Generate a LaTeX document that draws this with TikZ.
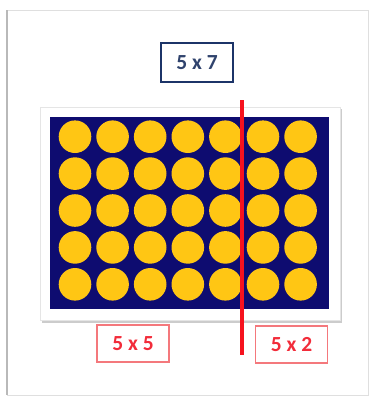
\documentclass[tikz,border=0pt]{standalone}
\usepackage{fontspec}
\setmainfont{Carlito}
\usetikzlibrary{positioning}
\definecolor{navy}{RGB}{14,12,112}
\definecolor{dotyellow}{RGB}{255,198,20}
\definecolor{boxblue}{RGB}{28,52,104}
\definecolor{cutred}{RGB}{246,18,30}
\definecolor{lblred}{RGB}{242,44,58}
\definecolor{lbledge}{RGB}{244,120,124}

\begin{document}
\begin{tikzpicture}[
  x=1pt, y=-1pt,
  lbl/.style={rectangle, draw, inner sep=0pt, font=\fontsize{21.5}{25}\selectfont\bfseries},
  total/.style={lbl, line width=2.4pt, draw=boxblue, text=boxblue!80!gray,
                minimum width=72pt, minimum height=39pt},
  part/.style={lbl, line width=1.2pt, draw=lbledge, text=lblred,
               minimum width=72pt, minimum height=37pt},
  dot/.style={fill=dotyellow},
  cut/.style={line width=4.5pt, cutred}
]
\useasboundingbox (0,0) rectangle (372,397);

% panel frame
\draw[gray!25, line width=1pt] (7,10) rectangle (368,395);
\draw[gray!55, line width=1.6pt] (7,10) -- (7,395);

% card with shadow
\fill[gray!40] (42,109) rectangle (342,323);
\filldraw[fill=white, draw=gray!20] (40,107) rectangle (340,320);
\fill[navy] (50,117) rectangle (329,309);

% counters, 5 rows of 7
\foreach \c in {0,...,6}
  \foreach \r in {0,...,4}
    \fill[dot] (75+37.6*\c, 136.7+36.9*\r) circle (16.3);

% labels
\node[total] (whole) at (197,62.5) {5 x 7};
\node[part] (left) at (133,343.5) {5 x 5};
\node[part] (right) at (291.5,344.5) {5 x 2};

% split line
\coordinate (cuttop) at (242,100);
\coordinate (cutbot) at (242,355);
\draw[cut] (cuttop) -- (cutbot);

\end{tikzpicture}
\end{document}
